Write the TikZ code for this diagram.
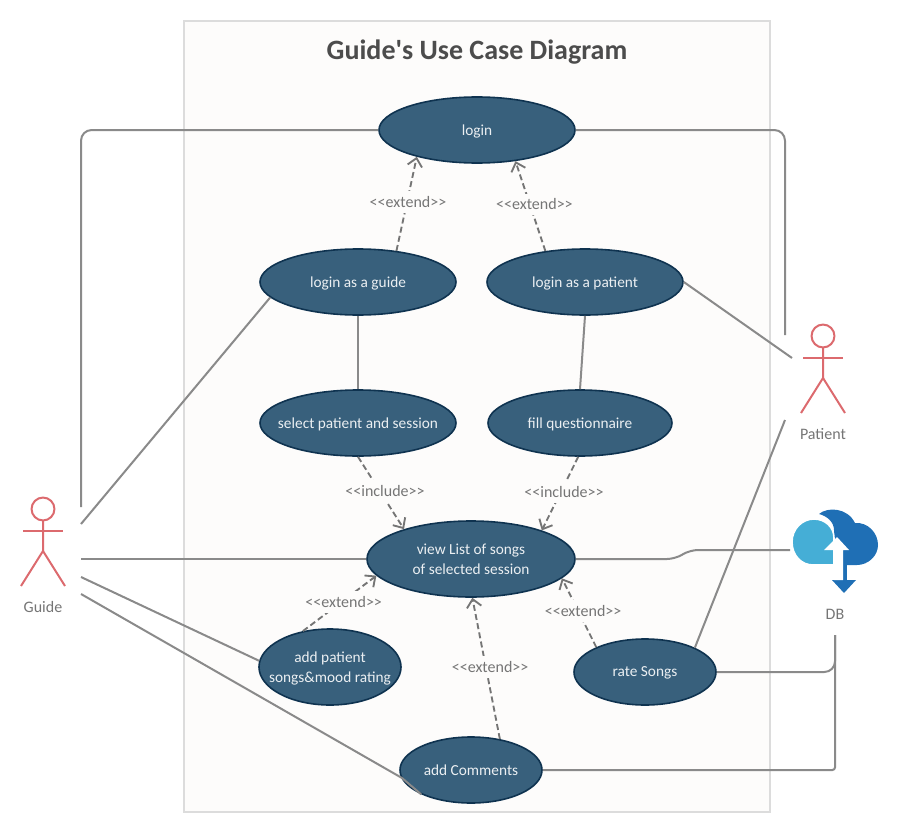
\documentclass[tikz,border=0pt]{standalone}
\usepackage{fontspec}
\setmainfont{Carlito}
\usetikzlibrary{arrows.meta,shapes.geometric}
\definecolor{frameline}{HTML}{DCDCDC}
\definecolor{framefill}{HTML}{FDFCFB}
\definecolor{casefill}{HTML}{38607C}
\definecolor{caseline}{HTML}{0F3350}
\definecolor{linkgray}{HTML}{8A8A8A}
\definecolor{textgray}{HTML}{757575}
\definecolor{actorred}{HTML}{DC6A6E}
\definecolor{clouddark}{HTML}{1F6FB5}
\definecolor{cloudlight}{HTML}{45AED6}
\tikzset{
  usecase/.style={ellipse, draw=caseline, line width=1.2pt, fill=casefill, text=white!90!casefill,
    inner sep=-14pt, align=center, text depth=0pt, font=\fontsize{11.5}{15}\selectfont},
  link/.style={draw=linkgray, line width=1.5pt},
  dep/.style={draw=linkgray!85!black, line width=1.4pt, dash pattern=on 4.5pt off 2.5pt, -{Straight Barb[length=6pt,width=11pt]}},
  tag/.style={fill=framefill, text=textgray, inner sep=2pt, inner ysep=4pt, xshift=3pt, yshift=1.2pt, font=\fontsize{12}{14}\selectfont},
  actortext/.style={text=textgray, font=\fontsize{12}{14}\selectfont},
  actorline/.style={draw=actorred, line width=1.5pt}
}
\begin{document}
\begin{tikzpicture}[x=0.75pt, y=-0.75pt]
    \useasboundingbox (0,0) rectangle (900,835);
    \draw[frameline, line width=1.4pt, fill=framefill] (184,21) rectangle (770,812);
    \node[text=black!70, font=\bfseries\fontsize{21}{25}\selectfont] (title) at (477,52) {Guide\textquotesingle s Use Case Diagram};
    % use cases
    \node[usecase, minimum width=147pt, minimum height=49.5pt] (login) at (477,130) {login};
    \node[usecase, minimum width=147pt, minimum height=49.5pt] (asguide) at (358,282) {login as a guide};
    \node[usecase, minimum width=147pt, minimum height=49.5pt] (aspatient) at (585,282) {login as a patient};
    \node[usecase, minimum width=147pt, minimum height=49.5pt] (select) at (358,423) {select patient and session};
    \node[usecase, minimum width=138pt, minimum height=49.5pt] (fill) at (580,423) {fill questionnaire};
    \node[usecase, minimum width=156pt, minimum height=57pt] (view) at (471,559) {view List of songs\\of selected session};
    \node[usecase, minimum width=106.5pt, minimum height=57pt] (addsongs) at (330,667) {add patient\\songs\&mood rating};
    \node[usecase, minimum width=106.5pt, minimum height=49.5pt] (rate) at (645,672) {rate Songs};
    \node[usecase, minimum width=106.5pt, minimum height=49.5pt] (comments) at (471,770) {add Comments};
    % actors
    \foreach \who/\x/\y/\txt in {guide/43/509/Guide, patient/823/336/Patient} {
        \draw[actorline] (\x,\y) circle (8.6pt);
        \draw[actorline] (\x,\y+11.5) -- (\x,\y+42) -- (\x-22,\y+77);
        \draw[actorline] (\x,\y+42) -- (\x+22,\y+77);
        \draw[actorline] (\x-20,\y+22) -- (\x+20,\y+22);
        \node[actortext] (\who label) at (\x,\y+98) {\txt};
    }
    % cloud
    \fill[clouddark] (819,514) .. controls (827,507) and (847,507) .. (855,523)
        .. controls (868,522) and (878,533) .. (878,545) .. controls (878,556) and (868,565) .. (857,565)
        -- (834,565) -- (834,530) .. controls (834,522) and (827,516) .. (819,514) -- cycle;
    \fill[clouddark] (842,565) rectangle (847,581);
    \fill[clouddark] (832,580) -- (856,580) -- (844,593) -- cycle;
    \filldraw[fill=cloudlight, draw=white, line width=1.2pt] (834,565) -- (813,565) .. controls (801,565) and (792,555) .. (792,542)
        .. controls (792,529) and (802,519) .. (814,519) .. controls (825,519) and (834,527) .. (834,538) -- cycle;
    \fill[white] (834,550) -- (824,550) -- (837,537) -- (849,550) -- (843,550) -- (843,580) -- (834,580) -- cycle;
    \node[actortext] (dblabel) at (835,614) {DB};
    % free ends of the connectors
    \coordinate (g1) at (81,507);
    \coordinate (g2) at (81,524);
    \coordinate (g3) at (81,559);
    \coordinate (g4) at (81,577);
    \coordinate (g5) at (81,594);
    \coordinate (p1) at (785,335);
    \coordinate (p2) at (792,358);
    \coordinate (p3) at (785,420);
    \coordinate (db1) at (790,550);
    \coordinate (db2) at (835,635);
    % plain links
    \draw[link, rounded corners=8pt] (g1) -- (81,130) -- (login.west);
    \draw[link, rounded corners=8pt] (login.east) -- (785,130) -- (p1);
    \draw[link] (g2) -- (asguide.190.4);
    \draw[link] (aspatient.east) -- (p2);
    \draw[link] (asguide.south) -- (select.north);
    \draw[link] (aspatient.south) -- (fill.north);
    \draw[link] (g3) -- (view.west);
    \draw[link, rounded corners=6pt] (view.east) -- (675,559) -- (690,550) -- (db1);
    \draw[link] (p3) -- (rate.26.9);
    \draw[link] (g4) -- (addsongs.175);
    \draw[link] (g5) -- (402,778) -- (comments.206.9);
    \draw[link, rounded corners=8pt] (rate.east) -- (835,672) -- (db2);
    \draw[link, rounded corners=2pt] (comments.east) -- (835,770) -- (db2);
    % dependencies
    \draw[dep] (asguide.39) -- node[tag, xshift=-2pt] {<{}<extend>{}>} (login.204);
    \draw[dep] (aspatient.142.2) -- node[tag] {<{}<extend>{}>} (login.321.7);
    \draw[dep] (select.south) -- node[tag] {<{}<include>{}>} (view.156.6);
    \draw[dep] (fill.267) -- node[tag] {<{}<include>{}>} (view.22.4);
    \draw[dep] (addsongs.127.6) -- node[tag] {<{}<extend>{}>} (view.190.4);
    \draw[dep] (comments.47.3) -- node[tag] {<{}<extend>{}>} (view.272);
    \draw[dep] (rate.153.1) -- node[tag] {<{}<extend>{}>} (view.348);
\end{tikzpicture}
\end{document}
